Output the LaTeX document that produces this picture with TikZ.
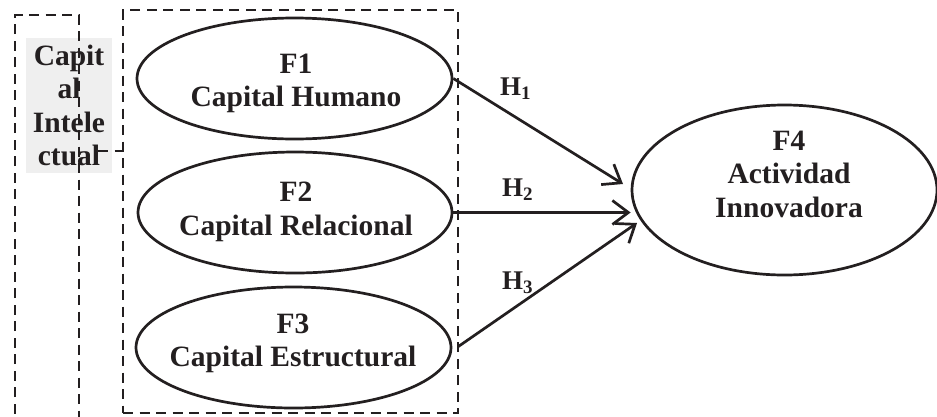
\documentclass[tikz,border=0pt]{standalone}
\usepackage{fontspec}
\setmainfont{Liberation Serif}
\usetikzlibrary{shapes.geometric,arrows.meta,calc}
\definecolor{ink}{HTML}{231F20}
\definecolor{boxgray}{HTML}{EFEFEF}
\begin{document}
\begin{tikzpicture}[x=1pt,y=-1pt,
  ell/.style={ellipse,draw=ink,line width=2.7pt,inner sep=0pt},
  lbl/.style={align=center,inner sep=0pt,text=ink,font=\fontsize{29.5}{33.5}\selectfont\bfseries},
  hlbl/.style={anchor=base west,inner sep=0pt,text=ink,font=\fontsize{27}{27}\selectfont\bfseries},
  dsh/.style={draw=ink,line width=2.8pt,dash pattern=on 10pt off 6.5pt},
  arr/.style={draw=ink,line width=2.7pt,-{Straight Barb[length=16pt,width=24pt,line width=2.7pt]}}
]
\useasboundingbox (0,0) rectangle (937,416);
\clip (0,0) rectangle (937,416);
% gray label box
\node[lbl,fill=boxgray,minimum width=86pt,minimum height=135pt] (ci) at (69,105.5) {Capit\\al\\Intele\\ctual};
% left dashed frame
\draw[dsh] (15,430) -- (15,15) -- (79,15) -- (79,430);
% group frame
\node[dsh,minimum width=335pt,minimum height=403pt,inner sep=0pt] (grp) at (290.5,211.5) {};
\coordinate (c1) at (98,151);
\draw[dsh] (c1) -- (c1 -| grp.west);
% ellipses
\node[ell,minimum width=315pt,minimum height=121pt] (f1) at (294.5,78.5) {};
\node[ell,minimum width=314pt,minimum height=121pt] (f2) at (295,212.5) {};
\node[ell,minimum width=315pt,minimum height=121pt] (f3) at (293.5,347.5) {};
\node[ell,minimum width=305pt,minimum height=170pt] (f4) at (784.5,190) {};
\node[lbl] (t1) at (296,83.4) {F1\\Capital Humano};
\node[lbl] (t2) at (296,212) {F2\\Capital Relacional};
\node[lbl] (t3) at (293,343.5) {F3\\Capital Estructural};
\node[lbl] (t4) at (789,174) {F4\\Actividad\\Innovadora};
% arrows
\coordinate (e1) at (623,184);
\coordinate (e3) at (637,223);
\draw[arr] (f1.east) -- (e1);
\draw[arr] (f2.east) -- (f2.east -| f4.west);
\draw[arr] ($(f3.east)+(6,-1)$) -- (e3);
% hypothesis labels
\node[hlbl] (h1) at (500,95) {H\raisebox{-4pt}{\fontsize{19}{19}\selectfont 1}};
\node[hlbl] (h2) at (502,196.7) {H\raisebox{-4pt}{\fontsize{19}{19}\selectfont 2}};
\node[hlbl] (h3) at (502,289) {H\raisebox{-4pt}{\fontsize{19}{19}\selectfont 3}};
\end{tikzpicture}
\end{document}
